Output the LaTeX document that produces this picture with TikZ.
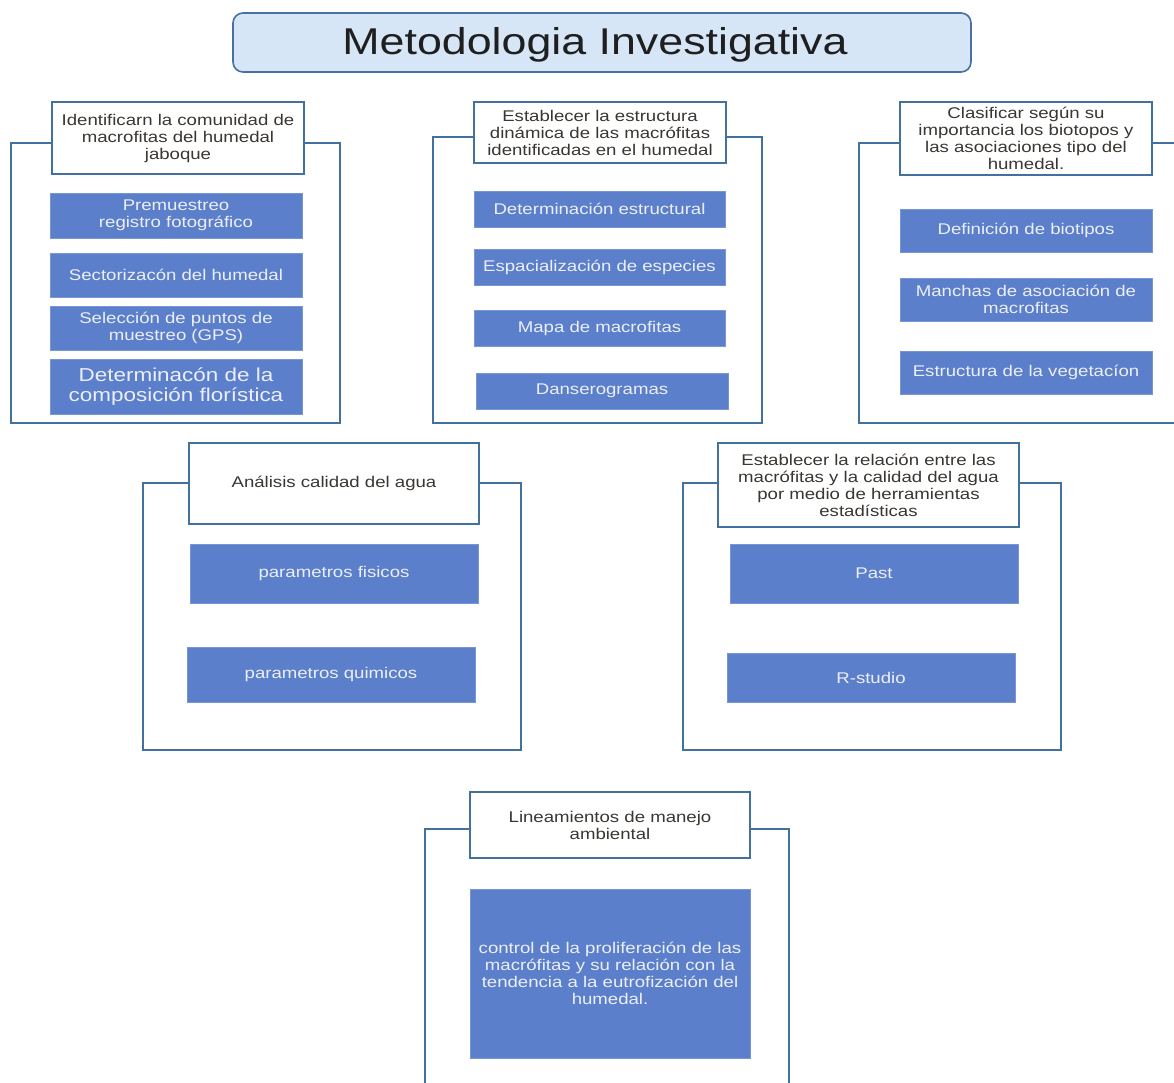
\documentclass[tikz,border=0pt]{standalone}
\usepackage{fontspec}
\setmainfont{Liberation Sans}[FakeStretch=1.2]
\definecolor{frameblue}{RGB}{65,113,156}
\definecolor{boxblue}{RGB}{91,127,202}
\definecolor{boxedge}{RGB}{120,150,212}
\definecolor{titlefill}{RGB}{214,230,246}
\definecolor{titleedge}{RGB}{72,112,160}
\definecolor{hdrtext}{RGB}{58,54,50}
\definecolor{innertext}{RGB}{236,239,248}
\newcommand\mybox[7]{\node[#6, minimum width={(#4-#2)*1pt}, minimum height={(#5-#3)*1pt}] (#1) at ({(#2+#4)/2},{(#3+#5)/2}) {#7};}
\tikzset{
  frame/.style={draw=frameblue, line width=2pt, fill=none, inner sep=0pt},
  header/.style={draw=frameblue, line width=2.4pt, fill=white, inner sep=0pt, align=center, text=hdrtext, font=\fontsize{15.5}{17}\selectfont},
  item/.style={fill=boxblue, draw=boxedge, line width=0.8pt, inner sep=0pt, align=center, text=innertext, font=\fontsize{15.5}{17}\selectfont},
  bigitem/.style={item, font=\fontsize{18.7}{20}\selectfont},
  titlebox/.style={draw=titleedge, line width=1.6pt, fill=titlefill, rounded corners=10pt, inner sep=0pt},
  titletext/.style={inner sep=0pt, text={black!88}, font=\fontsize{37.3}{40}\selectfont}
}
\begin{document}
\begin{tikzpicture}[x=1pt,y=-1pt]
\useasboundingbox (0,0) rectangle (1174,1082);
\clip (0,0) rectangle (1174,1082);
% title
\mybox{title}{233}{13}{971}{72}{titlebox}{}
\node[titletext] (titlelabel) at (595,45) {Metodologia Investigativa};
% frames
\mybox{f1}{11}{143}{340}{423}{frame}{}
\mybox{f2}{433}{137}{762}{423}{frame}{}
\mybox{f3}{859}{143}{1190}{423}{frame}{}
\mybox{f4}{143}{483}{521}{750}{frame}{}
\mybox{f5}{683}{483}{1061}{750}{frame}{}
\mybox{f6}{425}{829}{789}{1100}{frame}{}
% group 1
\mybox{h1}{52}{102}{304}{174}{header}{Identificarn la comunidad de\\macrofitas del humedal\\jaboque}
\mybox{a1}{50}{193}{302}{238}{item}{Premuestreo\\registro fotográfico}
\mybox{a2}{50}{253}{302}{297}{item}{Sectorizacón del humedal}
\mybox{a3}{50}{306}{302}{350}{item}{Selección de puntos de\\muestreo (GPS)}
\mybox{a4}{50}{359}{302}{414}{bigitem}{Determinacón de la\\composición florística}
% group 2
\mybox{h2}{474}{102}{726}{163}{header}{Establecer la estructura\\dinámica de las macrófitas\\identificadas en el humedal}
\mybox{b1}{474}{191}{725}{227}{item}{Determinación estructural}
\mybox{b2}{474}{249}{725}{285}{item}{Espacialización de especies}
\mybox{b3}{474}{310}{725}{346}{item}{Mapa de macrofitas}
\mybox{b4}{476}{373}{728}{409}{item}{Danserogramas}
% group 3
\mybox{h3}{900}{102}{1152}{175}{header}{Clasificar según su\\importancia los biotopos y\\las asociaciones tipo del\\humedal.}
\mybox{c1}{900}{209}{1152}{252}{item}{Definición de biotipos}
\mybox{c2}{900}{278}{1152}{321}{item}{Manchas de asociación de\\macrofitas}
\mybox{c3}{900}{351}{1152}{394}{item}{Estructura de la vegetacíon}
% group 4
\mybox{h4}{189}{443}{479}{524}{header}{Análisis calidad del agua}
\mybox{d1}{190}{544}{478}{603}{item}{parametros fisicos}
\mybox{d2}{187}{647}{475}{702}{item}{parametros quimicos}
% group 5
\mybox{h5}{718}{443}{1019}{527}{header}{Establecer la relación entre las\\macrófitas y la calidad del agua\\por medio de herramientas\\estadísticas}
\mybox{e1}{730}{544}{1018}{603}{item}{Past}
\mybox{e2}{727}{653}{1015}{702}{item}{R-studio}
% group 6
\mybox{h6}{470}{792}{750}{858}{header}{Lineamientos de manejo\\ambiental}
\mybox{g1}{470}{889}{750}{1058}{item}{control de la proliferación de las\\macrófitas y su relación con la\\tendencia a la eutrofización del\\humedal.}
\end{tikzpicture}
\end{document}
